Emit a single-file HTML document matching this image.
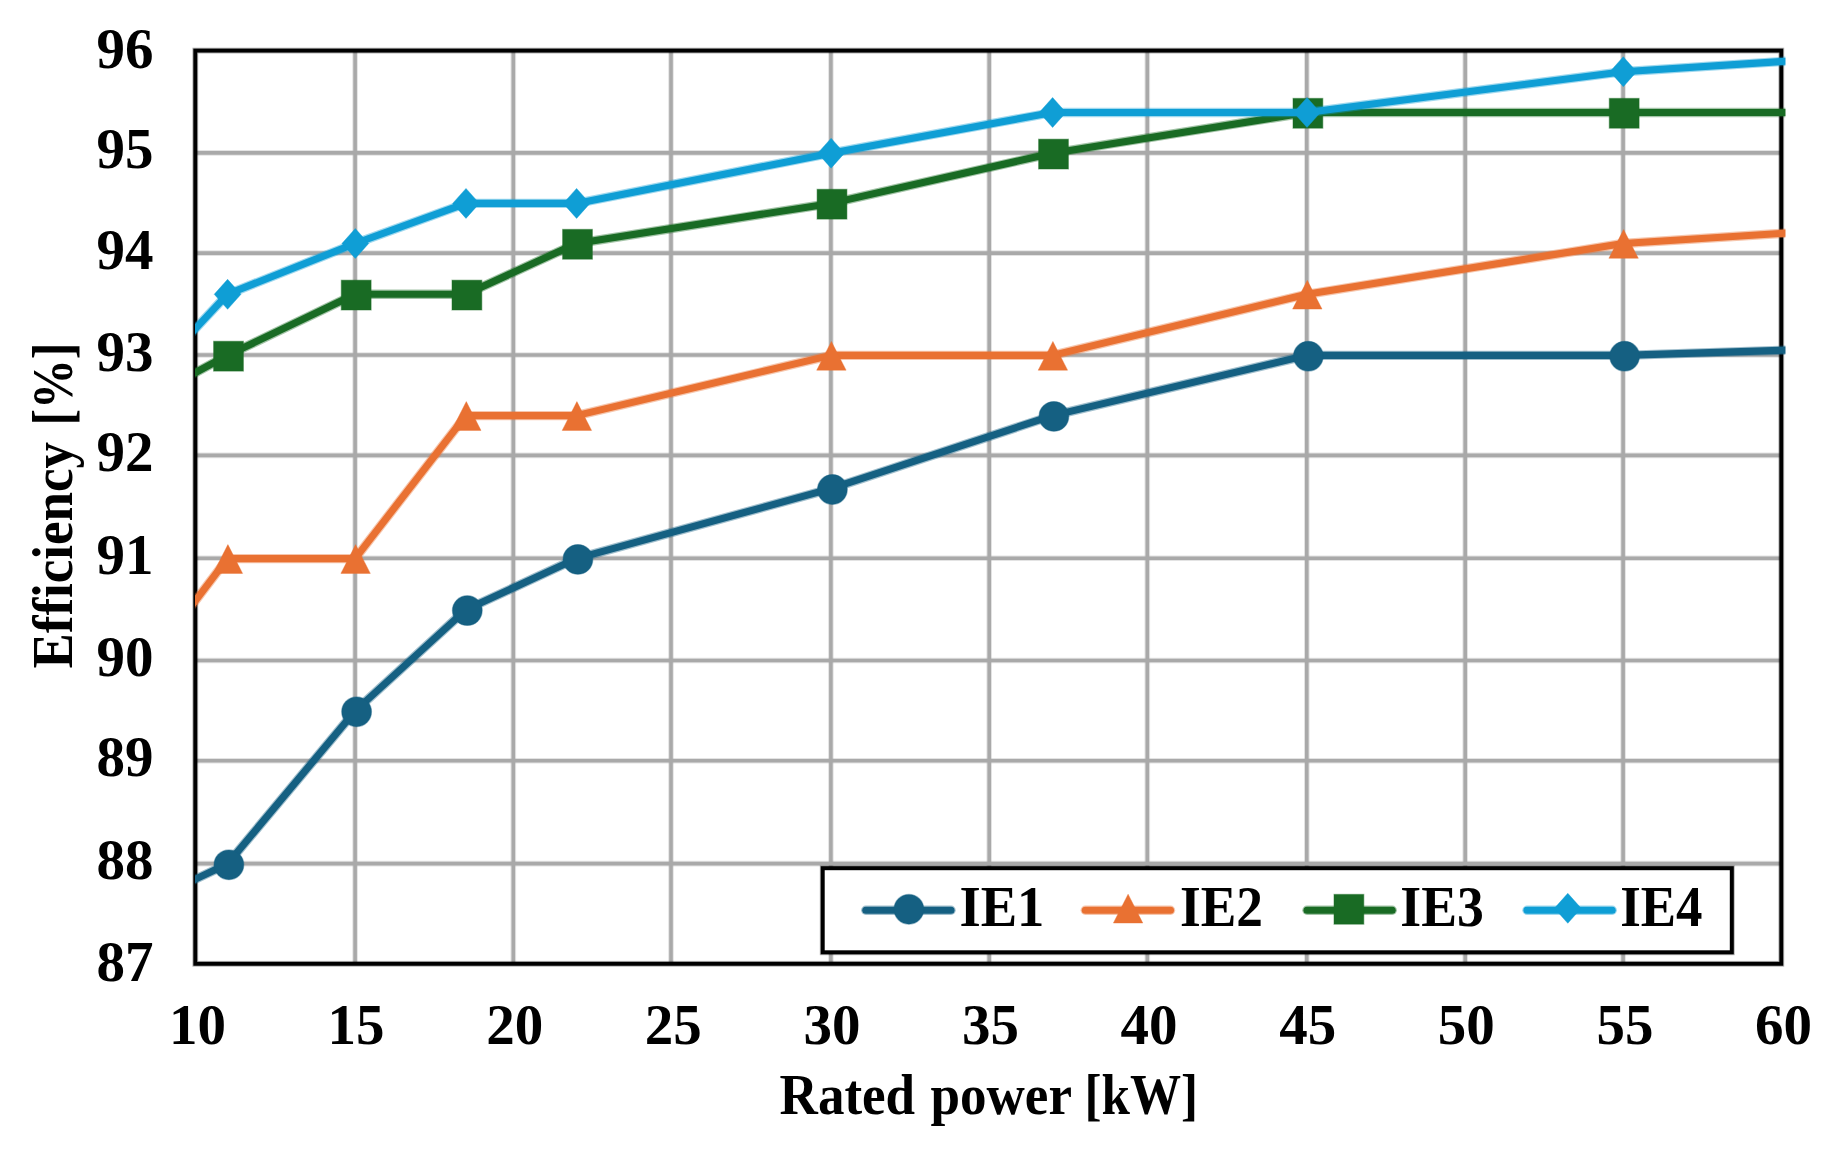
<!DOCTYPE html>
<html lang="en"><head><meta charset="utf-8"><title>Efficiency vs rated power</title>
<style>
html,body{margin:0;padding:0;background:#fff;}
body{width:1837px;height:1163px;overflow:hidden;}
svg{display:block;}
text{font-family:"Liberation Serif","Times New Roman",serif;font-weight:bold;fill:#000;}
</style></head><body>
<svg width="1837" height="1163" viewBox="0 0 1837 1163">
<rect width="1837" height="1163" fill="#fff"/>
<g>
<defs><clipPath id="pc"><rect x="195" y="48.6" width="1590.4" height="917.2"/></clipPath></defs>

<g fill="none">
<g stroke="#A9A9A9" stroke-opacity="0.33" stroke-width="5.6">
<line x1="355.1" y1="50.6" x2="355.1" y2="963.8"/>
<line x1="513.3" y1="50.6" x2="513.3" y2="963.8"/>
<line x1="671.0" y1="50.6" x2="671.0" y2="963.8"/>
<line x1="830.9" y1="50.6" x2="830.9" y2="963.8"/>
<line x1="989.2" y1="50.6" x2="989.2" y2="963.8"/>
<line x1="1147.3" y1="50.6" x2="1147.3" y2="963.8"/>
<line x1="1306.8" y1="50.6" x2="1306.8" y2="963.8"/>
<line x1="1465.2" y1="50.6" x2="1465.2" y2="963.8"/>
<line x1="1623.1" y1="50.6" x2="1623.1" y2="963.8"/>
<line x1="195.3" y1="863.60" x2="1781.3" y2="863.60"/>
<line x1="195.3" y1="760.80" x2="1781.3" y2="760.80"/>
<line x1="195.3" y1="660.50" x2="1781.3" y2="660.50"/>
<line x1="195.3" y1="558.25" x2="1781.3" y2="558.25"/>
<line x1="195.3" y1="455.40" x2="1781.3" y2="455.40"/>
<line x1="195.3" y1="355.00" x2="1781.3" y2="355.00"/>
<line x1="195.3" y1="253.10" x2="1781.3" y2="253.10"/>
<line x1="195.3" y1="152.85" x2="1781.3" y2="152.85"/>
</g>
<g stroke="#A9A9A9" stroke-width="3.6">
<line x1="355.1" y1="50.6" x2="355.1" y2="963.8"/>
<line x1="513.3" y1="50.6" x2="513.3" y2="963.8"/>
<line x1="671.0" y1="50.6" x2="671.0" y2="963.8"/>
<line x1="830.9" y1="50.6" x2="830.9" y2="963.8"/>
<line x1="989.2" y1="50.6" x2="989.2" y2="963.8"/>
<line x1="1147.3" y1="50.6" x2="1147.3" y2="963.8"/>
<line x1="1306.8" y1="50.6" x2="1306.8" y2="963.8"/>
<line x1="1465.2" y1="50.6" x2="1465.2" y2="963.8"/>
<line x1="1623.1" y1="50.6" x2="1623.1" y2="963.8"/>
<line x1="195.3" y1="863.60" x2="1781.3" y2="863.60"/>
<line x1="195.3" y1="760.80" x2="1781.3" y2="760.80"/>
<line x1="195.3" y1="660.50" x2="1781.3" y2="660.50"/>
<line x1="195.3" y1="558.25" x2="1781.3" y2="558.25"/>
<line x1="195.3" y1="455.40" x2="1781.3" y2="455.40"/>
<line x1="195.3" y1="355.00" x2="1781.3" y2="355.00"/>
<line x1="195.3" y1="253.10" x2="1781.3" y2="253.10"/>
<line x1="195.3" y1="152.85" x2="1781.3" y2="152.85"/>
</g>
</g>
<rect x="195.3" y="50.6" width="1586.0" height="913.2" fill="none" stroke="#000" stroke-opacity="0.3" stroke-width="5.8"/>
<rect x="195.3" y="50.6" width="1586.0" height="913.2" fill="none" stroke="#000" stroke-width="3.9"/>
<g clip-path="url(#pc)">
<polyline points="187.5,882.8 195.5,879.1 227.4,864.0 355.1,711.0 465.8,609.8 576.4,558.6 830.9,488.7 1052.4,415.6 1306.8,355.4 1623.1,355.4 1781.4,350.3 1789.4,350.0" fill="none" stroke="#156082" stroke-opacity="0.4" stroke-width="9.4" stroke-linejoin="round" stroke-linecap="round"/>
<polyline points="187.5,882.8 195.5,879.1 227.4,864.0 355.1,711.0 465.8,609.8 576.4,558.6 830.9,488.7 1052.4,415.6 1306.8,355.4 1623.1,355.4 1781.4,350.3 1789.4,350.0" fill="none" stroke="#156082" stroke-width="7.1" stroke-linejoin="round" stroke-linecap="round"/>
<circle cx="228.9" cy="864.8" r="14.9" fill="#156082" stroke="#156082" stroke-opacity="0.4" stroke-width="1.2"/>
<circle cx="356.6" cy="711.8" r="14.9" fill="#156082" stroke="#156082" stroke-opacity="0.4" stroke-width="1.2"/>
<circle cx="467.3" cy="610.6" r="14.9" fill="#156082" stroke="#156082" stroke-opacity="0.4" stroke-width="1.2"/>
<circle cx="577.9" cy="559.4" r="14.9" fill="#156082" stroke="#156082" stroke-opacity="0.4" stroke-width="1.2"/>
<circle cx="832.4" cy="489.5" r="14.9" fill="#156082" stroke="#156082" stroke-opacity="0.4" stroke-width="1.2"/>
<circle cx="1053.9" cy="416.4" r="14.9" fill="#156082" stroke="#156082" stroke-opacity="0.4" stroke-width="1.2"/>
<circle cx="1308.3" cy="356.2" r="14.9" fill="#156082" stroke="#156082" stroke-opacity="0.4" stroke-width="1.2"/>
<circle cx="1624.6" cy="356.2" r="14.9" fill="#156082" stroke="#156082" stroke-opacity="0.4" stroke-width="1.2"/>
<polyline points="187.5,611.1 195.5,600.6 227.4,558.6 355.1,558.6 465.8,415.6 576.4,415.6 830.9,355.4 1052.4,355.4 1306.8,294.3 1623.1,243.5 1781.4,233.4 1789.4,232.9" fill="none" stroke="#E97132" stroke-opacity="0.4" stroke-width="9.4" stroke-linejoin="round" stroke-linecap="round"/>
<polyline points="187.5,611.1 195.5,600.6 227.4,558.6 355.1,558.6 465.8,415.6 576.4,415.6 830.9,355.4 1052.4,355.4 1306.8,294.3 1623.1,243.5 1781.4,233.4 1789.4,232.9" fill="none" stroke="#E97132" stroke-width="7.1" stroke-linejoin="round" stroke-linecap="round"/>
<polygon points="227.9,544.6 242.6,573.4 213.2,573.4" fill="#E97132" stroke="#E97132" stroke-opacity="0.4" stroke-width="1"/>
<polygon points="355.6,544.6 370.3,573.4 340.9,573.4" fill="#E97132" stroke="#E97132" stroke-opacity="0.4" stroke-width="1"/>
<polygon points="466.3,401.6 481.0,430.4 451.6,430.4" fill="#E97132" stroke="#E97132" stroke-opacity="0.4" stroke-width="1"/>
<polygon points="576.9,401.6 591.6,430.4 562.2,430.4" fill="#E97132" stroke="#E97132" stroke-opacity="0.4" stroke-width="1"/>
<polygon points="831.4,341.4 846.1,370.2 816.7,370.2" fill="#E97132" stroke="#E97132" stroke-opacity="0.4" stroke-width="1"/>
<polygon points="1052.9,341.4 1067.6,370.2 1038.2,370.2" fill="#E97132" stroke="#E97132" stroke-opacity="0.4" stroke-width="1"/>
<polygon points="1307.3,280.3 1322.0,309.1 1292.6,309.1" fill="#E97132" stroke="#E97132" stroke-opacity="0.4" stroke-width="1"/>
<polygon points="1623.6,229.5 1638.3,258.3 1608.9,258.3" fill="#E97132" stroke="#E97132" stroke-opacity="0.4" stroke-width="1"/>
<polyline points="187.5,376.7 195.5,372.5 227.4,355.4 355.1,294.3 465.8,294.3 576.4,243.5 830.9,203.4 1052.4,153.2 1306.8,112.5 1623.1,112.5 1781.4,112.5 1789.4,112.5" fill="none" stroke="#196B24" stroke-opacity="0.4" stroke-width="9.4" stroke-linejoin="round" stroke-linecap="round"/>
<polyline points="187.5,376.7 195.5,372.5 227.4,355.4 355.1,294.3 465.8,294.3 576.4,243.5 830.9,203.4 1052.4,153.2 1306.8,112.5 1623.1,112.5 1781.4,112.5 1789.4,112.5" fill="none" stroke="#196B24" stroke-width="7.1" stroke-linejoin="round" stroke-linecap="round"/>
<rect x="213.6" y="341.3" width="29.8" height="29.8" fill="#196B24" stroke="#196B24" stroke-opacity="0.4" stroke-width="1.2"/>
<rect x="341.3" y="280.2" width="29.8" height="29.8" fill="#196B24" stroke="#196B24" stroke-opacity="0.4" stroke-width="1.2"/>
<rect x="452.0" y="280.2" width="29.8" height="29.8" fill="#196B24" stroke="#196B24" stroke-opacity="0.4" stroke-width="1.2"/>
<rect x="562.6" y="229.4" width="29.8" height="29.8" fill="#196B24" stroke="#196B24" stroke-opacity="0.4" stroke-width="1.2"/>
<rect x="817.1" y="189.3" width="29.8" height="29.8" fill="#196B24" stroke="#196B24" stroke-opacity="0.4" stroke-width="1.2"/>
<rect x="1038.6" y="139.2" width="29.8" height="29.8" fill="#196B24" stroke="#196B24" stroke-opacity="0.4" stroke-width="1.2"/>
<rect x="1293.0" y="98.4" width="29.8" height="29.8" fill="#196B24" stroke="#196B24" stroke-opacity="0.4" stroke-width="1.2"/>
<rect x="1609.3" y="98.4" width="29.8" height="29.8" fill="#196B24" stroke="#196B24" stroke-opacity="0.4" stroke-width="1.2"/>
<polyline points="187.5,337.2 195.5,328.6 227.4,294.3 355.1,243.5 465.8,203.4 576.4,203.4 830.9,153.2 1052.4,112.5 1306.8,112.5 1623.1,71.7 1781.4,61.5 1789.4,61.0" fill="none" stroke="#0F9ED5" stroke-opacity="0.4" stroke-width="9.4" stroke-linejoin="round" stroke-linecap="round"/>
<polyline points="187.5,337.2 195.5,328.6 227.4,294.3 355.1,243.5 465.8,203.4 576.4,203.4 830.9,153.2 1052.4,112.5 1306.8,112.5 1623.1,71.7 1781.4,61.5 1789.4,61.0" fill="none" stroke="#0F9ED5" stroke-width="7.1" stroke-linejoin="round" stroke-linecap="round"/>
<polygon points="227.6,279.3 241.0,294.3 227.6,309.3 214.2,294.3" fill="#0F9ED5" stroke="#0F9ED5" stroke-opacity="0.4" stroke-width="1"/>
<polygon points="355.3,228.5 368.7,243.5 355.3,258.5 341.9,243.5" fill="#0F9ED5" stroke="#0F9ED5" stroke-opacity="0.4" stroke-width="1"/>
<polygon points="466.0,188.4 479.4,203.4 466.0,218.4 452.6,203.4" fill="#0F9ED5" stroke="#0F9ED5" stroke-opacity="0.4" stroke-width="1"/>
<polygon points="576.6,188.4 590.0,203.4 576.6,218.4 563.2,203.4" fill="#0F9ED5" stroke="#0F9ED5" stroke-opacity="0.4" stroke-width="1"/>
<polygon points="831.1,138.2 844.5,153.2 831.1,168.2 817.7,153.2" fill="#0F9ED5" stroke="#0F9ED5" stroke-opacity="0.4" stroke-width="1"/>
<polygon points="1052.6,97.5 1066.0,112.5 1052.6,127.5 1039.2,112.5" fill="#0F9ED5" stroke="#0F9ED5" stroke-opacity="0.4" stroke-width="1"/>
<polygon points="1307.0,97.5 1320.4,112.5 1307.0,127.5 1293.6,112.5" fill="#0F9ED5" stroke="#0F9ED5" stroke-opacity="0.4" stroke-width="1"/>
<polygon points="1623.3,56.7 1636.7,71.7 1623.3,86.7 1609.9,71.7" fill="#0F9ED5" stroke="#0F9ED5" stroke-opacity="0.4" stroke-width="1"/>
</g>
<rect x="822.7" y="868.2" width="909.1" height="84.1" fill="#fff" stroke="#000" stroke-opacity="0.3" stroke-width="5.8"/>
<rect x="822.7" y="868.2" width="909.1" height="84.1" fill="#fff" stroke="#000" stroke-width="4.0"/>
<line x1="865.8" y1="910.3" x2="951.0" y2="910.3" stroke="#156082" stroke-opacity="0.4" stroke-width="9.4" stroke-linecap="round"/>
<line x1="865.8" y1="910.3" x2="951.0" y2="910.3" stroke="#156082" stroke-width="7.1" stroke-linecap="round"/>
<circle cx="908.9" cy="909.3" r="14.9" fill="#156082" stroke="#156082" stroke-opacity="0.4" stroke-width="1.2"/>
<text x="959.4" y="926" font-size="57" textLength="85" lengthAdjust="spacingAndGlyphs">IE1</text>
<line x1="1085.3" y1="910.3" x2="1170.5" y2="910.3" stroke="#E97132" stroke-opacity="0.4" stroke-width="9.4" stroke-linecap="round"/>
<line x1="1085.3" y1="910.3" x2="1170.5" y2="910.3" stroke="#E97132" stroke-width="7.1" stroke-linecap="round"/>
<polygon points="1128.1,894.2 1142.8,923.0 1113.4,923.0" fill="#E97132" stroke="#E97132" stroke-opacity="0.4" stroke-width="1"/>
<text x="1179.9" y="926" font-size="57" textLength="83" lengthAdjust="spacingAndGlyphs">IE2</text>
<line x1="1307.0" y1="910.3" x2="1392.2" y2="910.3" stroke="#196B24" stroke-opacity="0.4" stroke-width="9.4" stroke-linecap="round"/>
<line x1="1307.0" y1="910.3" x2="1392.2" y2="910.3" stroke="#196B24" stroke-width="7.1" stroke-linecap="round"/>
<rect x="1334.0" y="894.4" width="29.8" height="29.8" fill="#196B24" stroke="#196B24" stroke-opacity="0.4" stroke-width="1.2"/>
<text x="1400.3" y="926" font-size="57" textLength="83.5" lengthAdjust="spacingAndGlyphs">IE3</text>
<line x1="1527.0" y1="910.3" x2="1612.2" y2="910.3" stroke="#0F9ED5" stroke-opacity="0.4" stroke-width="9.4" stroke-linecap="round"/>
<line x1="1527.0" y1="910.3" x2="1612.2" y2="910.3" stroke="#0F9ED5" stroke-width="7.1" stroke-linecap="round"/>
<polygon points="1567.8,893.3 1581.2,908.3 1567.8,923.3 1554.4,908.3" fill="#0F9ED5" stroke="#0F9ED5" stroke-opacity="0.4" stroke-width="1"/>
<text x="1620.2" y="926" font-size="57" textLength="82.3" lengthAdjust="spacingAndGlyphs">IE4</text>
<text x="153.5" y="67.7" font-size="57" text-anchor="end">96</text>
<text x="153.5" y="168.3" font-size="57" text-anchor="end">95</text>
<text x="153.5" y="268.5" font-size="57" text-anchor="end">94</text>
<text x="153.5" y="370.6" font-size="57" text-anchor="end">93</text>
<text x="153.5" y="470.8" font-size="57" text-anchor="end">92</text>
<text x="153.5" y="573.6" font-size="57" text-anchor="end">91</text>
<text x="153.5" y="675.9" font-size="57" text-anchor="end">90</text>
<text x="153.5" y="776.2" font-size="57" text-anchor="end">89</text>
<text x="153.5" y="879.0" font-size="57" text-anchor="end">88</text>
<text x="153.5" y="981.2" font-size="57" text-anchor="end">87</text>
<text x="197.5" y="1043.6" font-size="57" text-anchor="middle">10</text>
<text x="356.1" y="1043.6" font-size="57" text-anchor="middle">15</text>
<text x="514.7" y="1043.6" font-size="57" text-anchor="middle">20</text>
<text x="673.3" y="1043.6" font-size="57" text-anchor="middle">25</text>
<text x="831.9" y="1043.6" font-size="57" text-anchor="middle">30</text>
<text x="990.5" y="1043.6" font-size="57" text-anchor="middle">35</text>
<text x="1149.1" y="1043.6" font-size="57" text-anchor="middle">40</text>
<text x="1307.7" y="1043.6" font-size="57" text-anchor="middle">45</text>
<text x="1466.3" y="1043.6" font-size="57" text-anchor="middle">50</text>
<text x="1624.9" y="1043.6" font-size="57" text-anchor="middle">55</text>
<text x="1783.5" y="1043.6" font-size="57" text-anchor="middle">60</text>
<text y="1113.8" font-size="57"><tspan x="779.6" textLength="135.5" lengthAdjust="spacingAndGlyphs">Rated</tspan> <tspan x="930.5" textLength="140.5" lengthAdjust="spacingAndGlyphs">power</tspan> <tspan x="1084.6" textLength="113.5" lengthAdjust="spacingAndGlyphs">[kW]</tspan></text>
<text transform="translate(71.8,0) rotate(-90)" y="0" font-size="57"><tspan x="-668.5" textLength="226.5" lengthAdjust="spacingAndGlyphs">Efficiency</tspan> <tspan x="-425.6" textLength="83.0" lengthAdjust="spacingAndGlyphs">[%]</tspan></text>
</g>
</svg></body></html>
